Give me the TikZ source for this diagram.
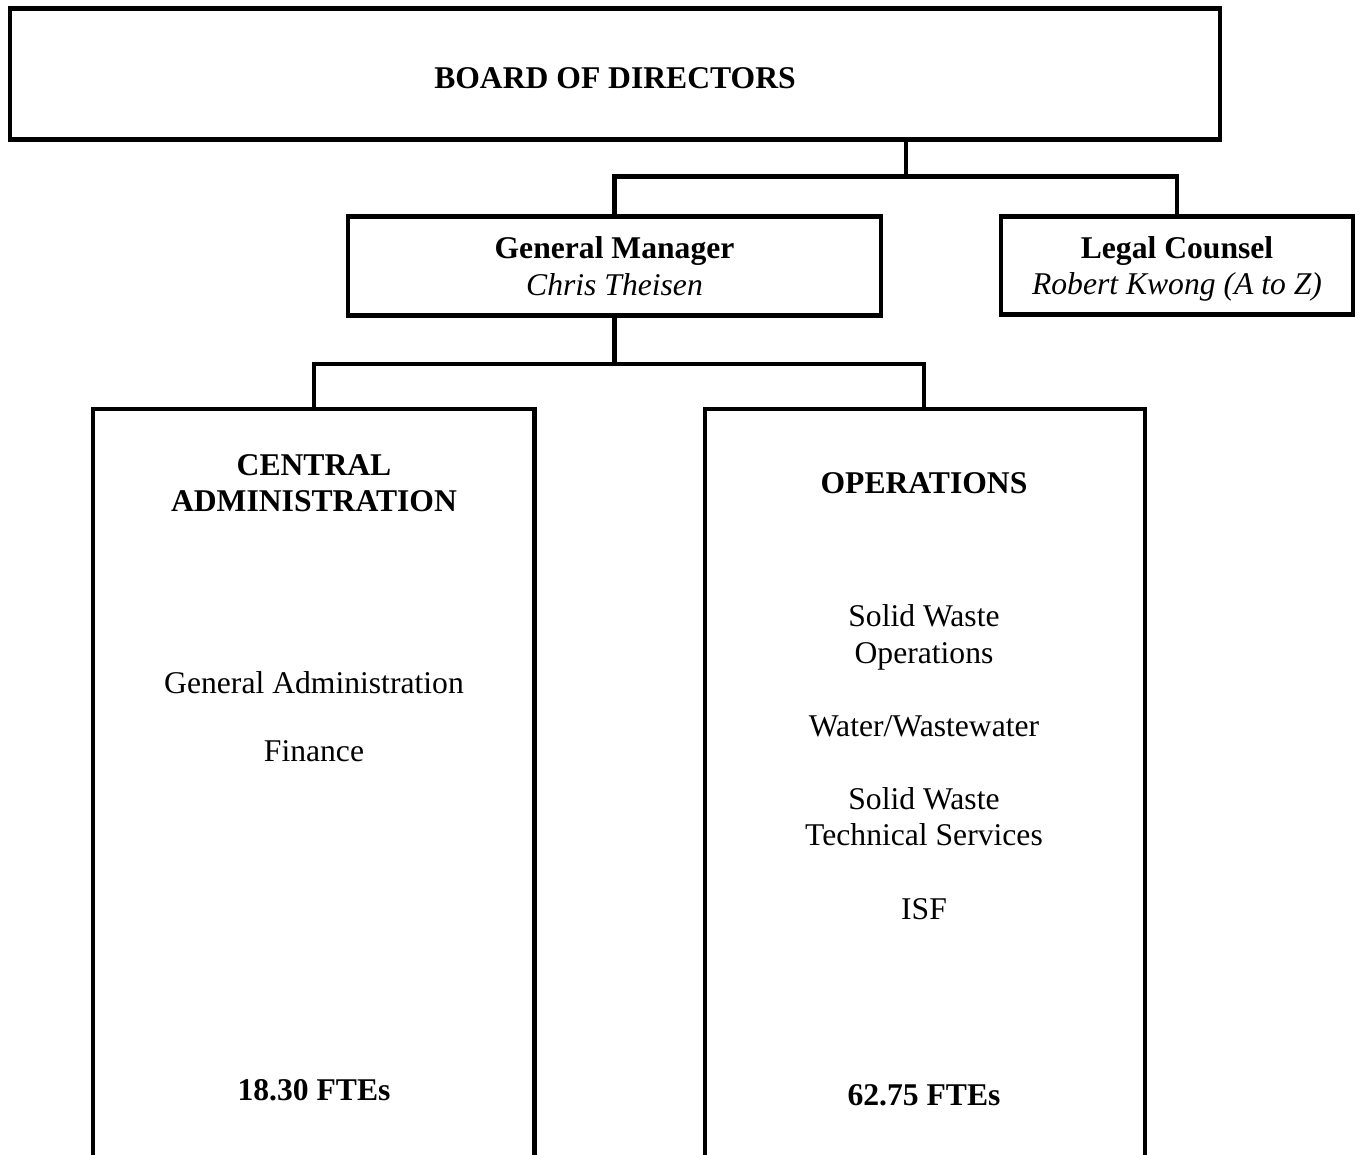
\documentclass[tikz,border=0pt]{standalone}
\usepackage{fontspec}
\setmainfont{Liberation Serif}
\usetikzlibrary{positioning}

\begin{document}
\begin{tikzpicture}[
    box/.style={draw, line width=2.8pt, inner sep=0pt, align=center},
    txt/.style={align=center, inner sep=0pt},
    link/.style={line width=2.3pt},
    font=\fontsize{18}{20.8}\selectfont
]
    \useasboundingbox (0,0) rectangle (27.2,-23.1);

    % boxes
    \node[box, text height=0.58cm, text depth=0pt, minimum width=24.2cm, minimum height=2.63cm] (board) at (12.3,-1.48) {\textbf{BOARD OF DIRECTORS}};
    \node[box, minimum width=10.66cm, minimum height=1.98cm] (gm) at (12.29,-5.32) {\textbf{General Manager}\\ \textit{Chris Theisen}};
    \node[box, text depth=0pt, minimum width=7.04cm, minimum height=1.96cm] (legal) at (23.54,-5.31) {\textbf{Legal Counsel}\\ \textit{Robert Kwong (A to Z)}};
    \node[box, minimum width=8.83cm, minimum height=15.42cm] (ca) at (6.275,-15.89) {};
    \node[box, minimum width=8.8cm, minimum height=15.42cm] (ops) at (18.5,-15.89) {};

    % box contents
    \node[txt] (catitle) at (6.28,-9.66) {\textbf{CENTRAL}\\ \textbf{ADMINISTRATION}};
    \node[txt] (calist) at (6.28,-14.34) {General Administration\\[18pt] Finance};
    \node[txt] (cafte) at (6.28,-21.8) {\textbf{18.30 FTEs}};

    \node[txt] (opstitle) at (18.48,-9.66) {\textbf{OPERATIONS}};
    \node[txt] (opslist) at (18.48,-15.24) {Solid Waste\\ Operations\\[20.8pt] Water/Wastewater\\[20.8pt] Solid Waste\\ Technical Services\\[20.8pt] ISF};
    \node[txt] (opsfte) at (18.48,-21.9) {\textbf{62.75 FTEs}};

    % connectors
    \coordinate (j1) at (18.12,-3.53);
    \coordinate (j2) at (12.29,-7.28);
    \draw[link] (board.south -| j1) -- (j1);
    \draw[link] (gm.north) |- (j1) -| (legal.north);
    \draw[link] (gm.south) -- (j2);
    \draw[link] (ca.north) |- (j2) -| (ops.north -| opstitle);
\end{tikzpicture}
\end{document}
